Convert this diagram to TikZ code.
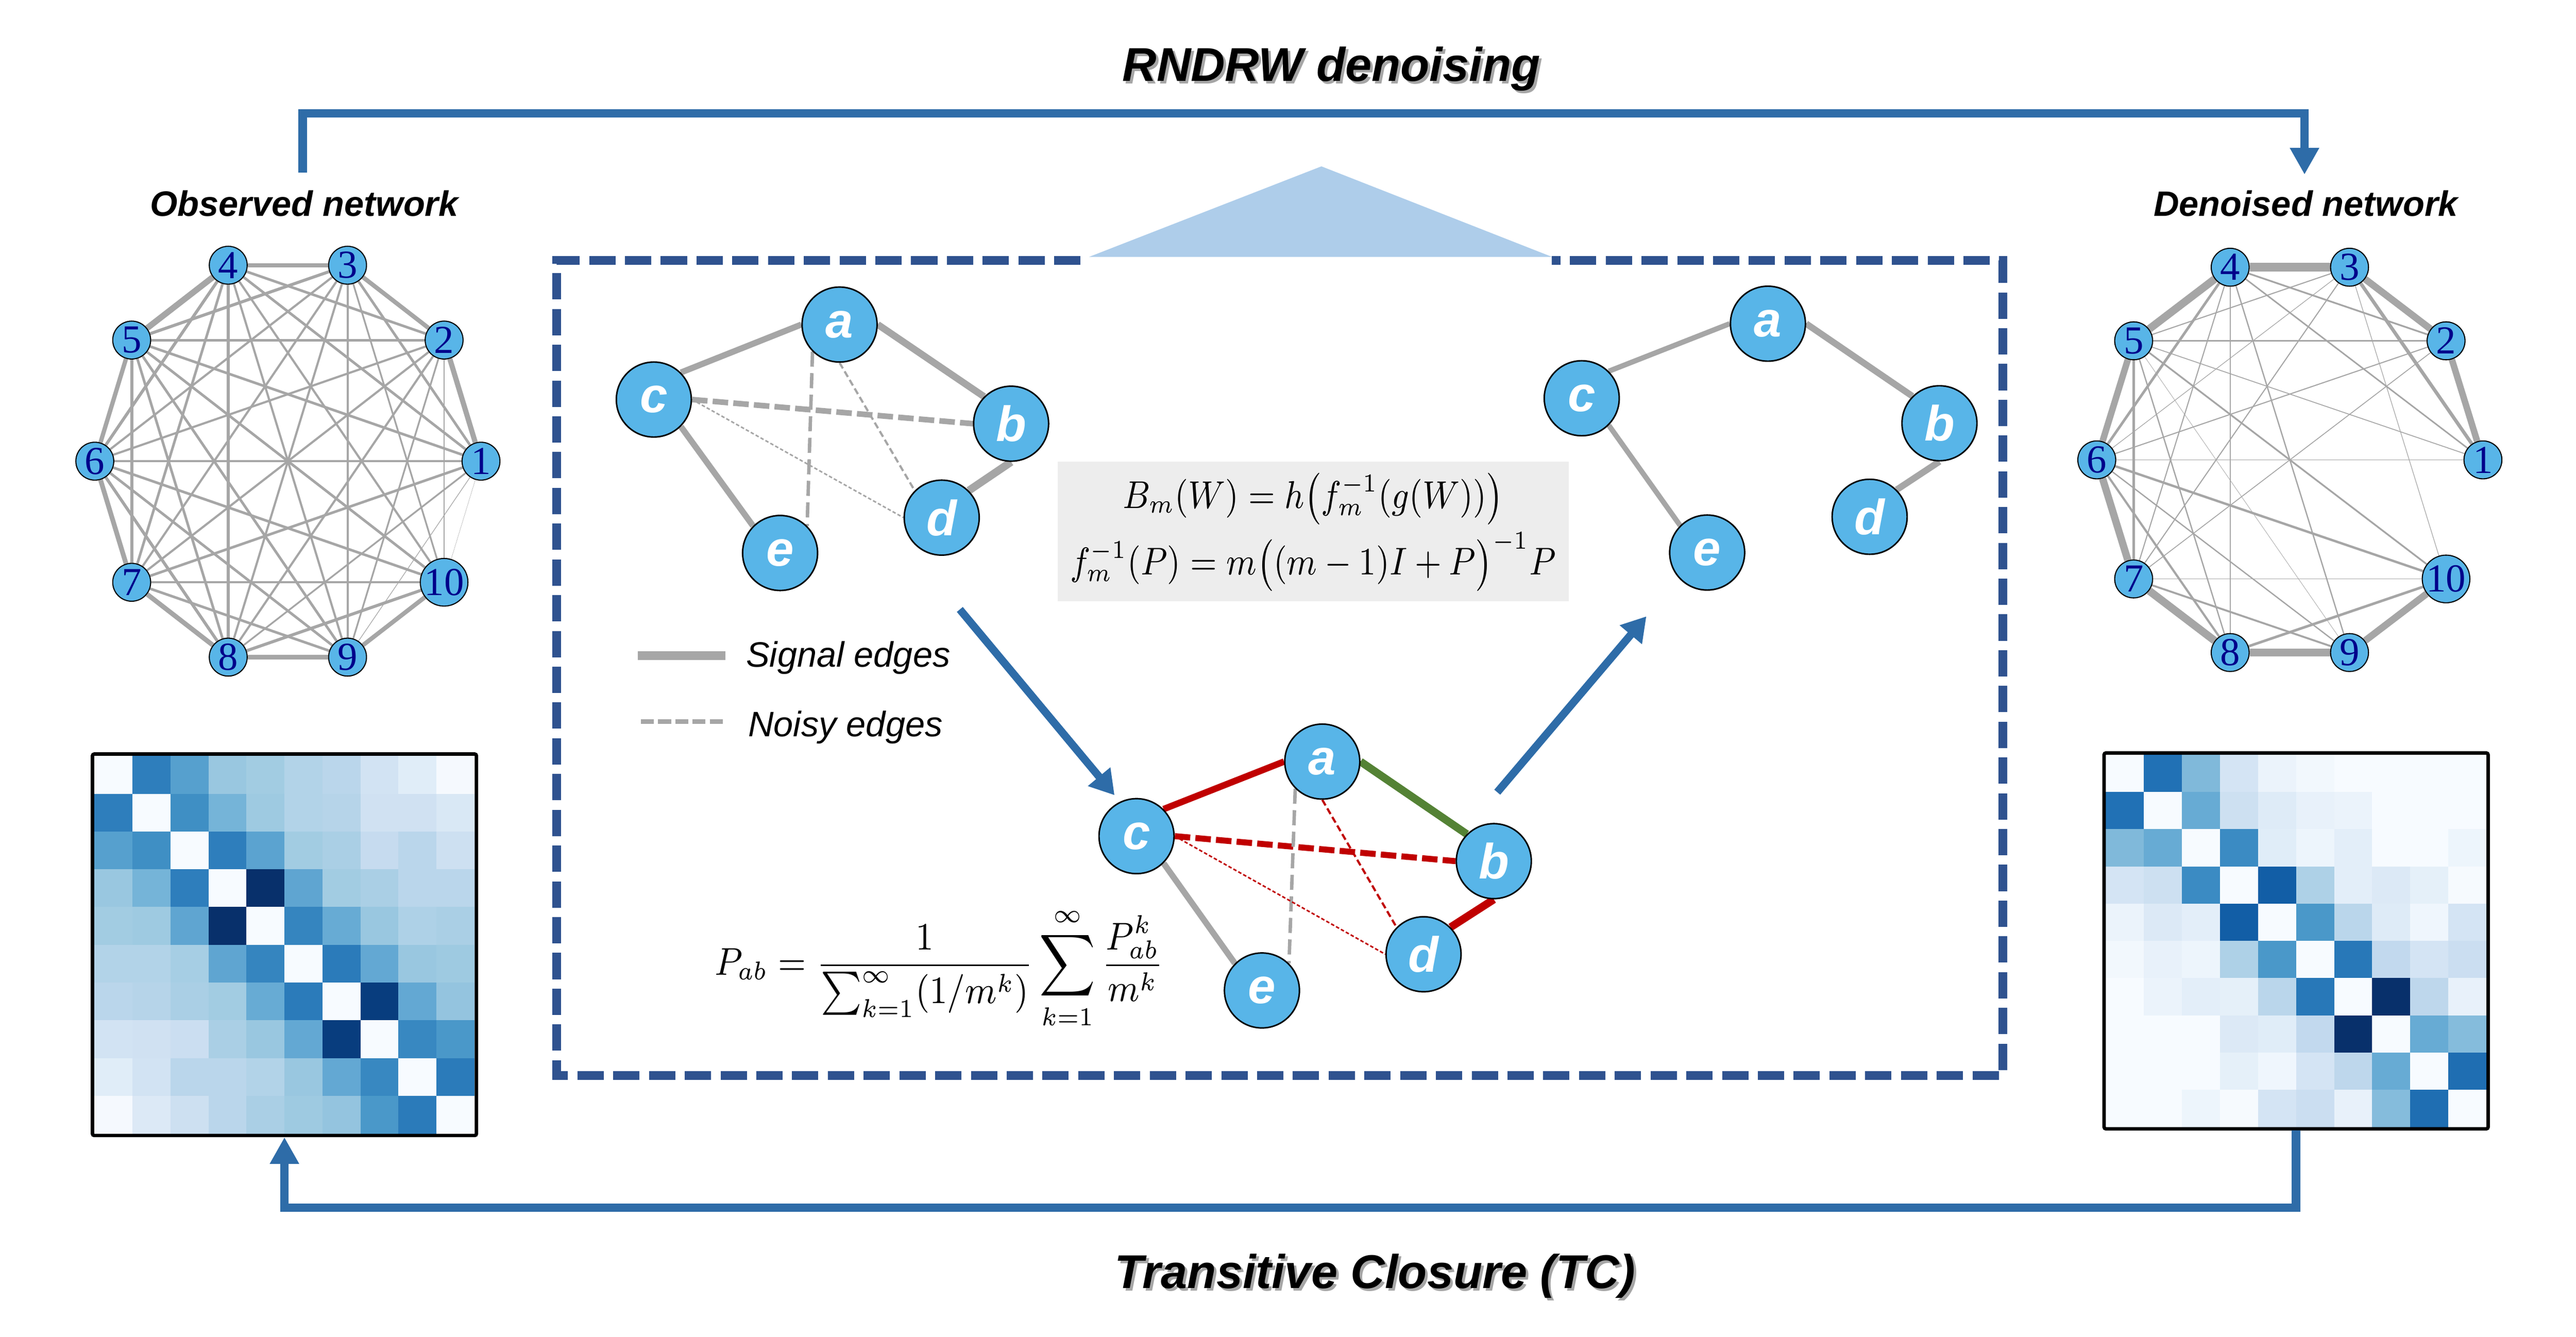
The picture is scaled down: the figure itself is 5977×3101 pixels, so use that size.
\documentclass[tikz,border=0pt]{standalone}
\usepackage{fontspec}
\usepackage{graphicx}
\setmainfont{Liberation Sans}
\newfontfamily\numfont{Liberation Serif}
\usetikzlibrary{arrows.meta,backgrounds,calc}
\definecolor{conn}{RGB}{46,108,168}
\definecolor{boxblue}{RGB}{47,82,143}
\definecolor{tri}{RGB}{174,205,234}
\definecolor{nodeblue}{RGB}{88,181,232}
\definecolor{edgegray}{RGB}{166,166,166}
\definecolor{numblue}{RGB}{0,0,139}
\definecolor{myred}{RGB}{192,0,0}
\definecolor{mygreen}{RGB}{84,130,53}
\definecolor{formulabg}{RGB}{237,237,237}
\definecolor{b0}{HTML}{F7FBFF}
\definecolor{b1}{HTML}{DEEBF7}
\definecolor{b2}{HTML}{C6DBEF}
\definecolor{b3}{HTML}{9ECAE1}
\definecolor{b4}{HTML}{6BAED6}
\definecolor{b5}{HTML}{4292C6}
\definecolor{b6}{HTML}{2171B5}
\definecolor{b7}{HTML}{08519C}
\definecolor{b8}{HTML}{08306B}
\tikzset{
  nnode/.style={circle, fill=nodeblue, draw=black, line width=0.25pt, minimum size=8.8pt, inner sep=0pt,
     font=\numfont\fontsize{9.2}{9}\selectfont, text=numblue},
  cnode/.style={circle, fill=nodeblue, draw=black, line width=0.35pt, minimum size=17.4pt, inner sep=0pt,
     font=\fontsize{11.5}{12}\selectfont\bfseries\itshape, text=white},
  netedge/.style={draw=edgegray},
  sig/.style={draw=edgegray, line width=1.4pt},
  connline/.style={draw=conn, line width=2pt},
  bigtip/.style={-{Triangle[width=6.4pt,length=6.2pt]}},
  midarrow/.style={draw=conn, line width=1.8pt, -{Triangle[width=6.4pt,length=5.6pt]}},
  titlefnt/.style={font=\fontsize{11}{13}\selectfont\bfseries\itshape},
  labfnt/.style={font=\fontsize{8.2}{10}\selectfont\bfseries\itshape},
  legfnt/.style={font=\fontsize{8.2}{10}\selectfont\itshape},
  matframe/.style={draw=black, line width=0.8pt, rounded corners=0.4pt, inner sep=0pt},
}
\begin{document}
\begin{tikzpicture}[x=0.1pt,y=-0.1pt]
\useasboundingbox (0,0) rectangle (5977,3101);

% ---------- titles ----------
\node[titlefnt, text=black!35, anchor=base] at (3095,194) {RNDRW denoising};
\node[titlefnt, anchor=base] (T1) at (3089,188) {RNDRW denoising};
\node[titlefnt, text=black!35, anchor=base] at (3196,2995) {Transitive Closure (TC)};
\node[titlefnt, anchor=base] (T2) at (3190,2989) {Transitive Closure (TC)};
\node[labfnt, anchor=base] (OL) at (706,502) {Observed network};
\node[labfnt, anchor=base] (DL) at (5350,502) {Denoised network};

% ---------- networks ----------
\foreach \k in {1,...,10}{
  \pgfmathsetmacro\ang{(\k-1)*36}
  \node[nnode] (L\k) at ({668+448*cos(\ang)},{1070-478*sin(\ang)}) {\k};
  \node[nnode] (R\k) at ({5313+448*cos(\ang)},{1067-470*sin(\ang)}) {\k};
}
\begin{pgfonlayer}{background}
\foreach \a/\b/\w in {1/2/12,1/3/6,1/4/6,1/5/6,1/6/5,1/7/6,1/8/4,1/9/1.5,1/10/0.6,
  2/3/10,2/4/6,2/5/6,2/6/5,2/7/5,2/8/5,2/9/4,2/10/2.5,
  3/4/10,3/5/7,3/6/5,3/7/5,3/8/5,3/9/5,3/10/4,
  4/5/14,4/6/7,4/7/6,4/8/6,4/9/5,4/10/5,
  5/6/10,5/7/7,5/8/6,5/9/6,5/10/6,
  6/7/11,6/8/7,6/9/6,6/10/6,
  7/8/11,7/9/6,7/10/5,
  8/9/10,8/10/7,9/10/10}{
  \pgfmathsetmacro\lw{\w/10}
  \draw[netedge, line width=\lw pt] (L\a) -- (L\b);
}
\foreach \a/\b/\w in {4/3/20,4/5/18,5/6/15,6/7/17,7/8/18,8/9/17,9/10/16,3/2/16,2/1/15,
  3/1/8,4/2/4,4/1/3.5,4/6/6,4/7/2.5,4/8/3,4/9/3,3/5/2.5,3/6/1.5,3/7/2.5,3/10/1.5,
  5/2/3.5,5/1/2,5/10/4,5/7/5,5/8/3,5/9/1,6/2/2.5,6/1/0.5,6/10/5.5,6/8/5,6/9/3,
  7/2/2,7/10/1.5,7/9/4.5,8/10/6}{
  \pgfmathsetmacro\lw{\w/10}
  \draw[netedge, line width=\lw pt] (R\a) -- (R\b);
}
\end{pgfonlayer}

% ---------- heat maps ----------
\foreach \row [count=\i from 0] in {
 {0,5.6,4.5,3.1,2.9,2.5,2.3,1.5,0.9,0.1},
 {5.6,0,5.1,3.8,3.0,2.5,2.4,1.6,1.6,1.2},
 {4.5,5.1,0,5.6,4.4,2.9,2.7,2.0,2.3,1.7},
 {3.1,3.8,5.6,0,8,4.3,2.9,2.7,2.3,2.3},
 {2.9,3.0,4.3,8,0,5.4,4.1,3.1,2.6,2.7},
 {2.5,2.5,2.8,4.3,5.4,0,5.7,4.2,3.1,3.0},
 {2.3,2.4,2.7,2.9,4.1,5.7,0,7.6,4.2,3.2},
 {1.5,1.6,1.8,2.7,3.1,4.2,7.6,0,5.3,4.8},
 {0.9,1.5,2.3,2.3,2.5,3.1,4.2,5.3,0,5.7},
 {0.1,1.1,1.7,2.3,2.7,3.0,3.2,4.8,5.7,0}}{
  \foreach \v [count=\j from 0] in \row {
    \pgfmathtruncatemacro\lo{floor(\v)}
    \pgfmathtruncatemacro\hi{min(\lo+1,8)}
    \pgfmathtruncatemacro\pct{round(100*(1-(\v-\lo)))}
    \fill[b\lo!\pct!b\hi] ({219+\j*88.2},{1754+\i*87.6}) rectangle ++(88.7,88.1);
  }
}
\foreach \row [count=\i from 0] in {
 {0,6.0,3.6,1.4,0.5,0.2,0,0,0,0},
 {6.0,0,4.1,1.7,1.0,0.6,0.5,0,0,0},
 {3.6,4.1,0,5.2,0.9,0.4,0.8,0,0,0.4},
 {1.4,1.7,5.2,0,6.6,2.6,0.8,1.1,0.7,0.05},
 {0.5,1.1,0.8,6.6,0,4.8,2.3,1.0,0.3,1.4},
 {0.2,0.6,0.4,2.6,4.8,0,5.8,2.1,1.4,1.8},
 {0,0.5,0.8,0.7,2.3,5.8,0,8,2.2,0.6},
 {0,0,0,1.1,0.9,2.1,8,0,4.1,3.5},
 {0,0,0,0.7,0.3,1.4,2.2,4.1,0,6.1},
 {0,0,0.4,0.05,1.4,1.8,0.6,3.5,6.1,0}}{
  \foreach \v [count=\j from 0] in \row {
    \pgfmathtruncatemacro\lo{floor(\v)}
    \pgfmathtruncatemacro\hi{min(\lo+1,8)}
    \pgfmathtruncatemacro\pct{round(100*(1-(\v-\lo)))}
    \fill[b\lo!\pct!b\hi] ({4886+\j*88.3},{1751+\i*86.4}) rectangle ++(88.8,86.9);
  }
}
\node[matframe, minimum width=89.1pt, minimum height=88.5pt] (LM) at (660,2192) {};
\node[matframe, minimum width=89.1pt, minimum height=87.2pt] (RM) at (5327.5,2183) {};

% ---------- outer connectors ----------
\coordinate (topL) at (702,400);
\coordinate (topR) at (5347,405);
\draw[connline, bigtip] (topL) -- (702,263) -- (5347,263) -- (topR);
\draw[connline, bigtip] (RM.south) -- ($(RM.south)+(0,179)$) -| (LM.south);

% ---------- dashed frame ----------
\fill[tri] (3066,386) -- (2527,596) -- (3601,596) -- cycle;
\draw[boxblue, line width=2pt, dash pattern=on 6.1pt off 2.2pt]
  (2507,604) -- (1292,604) -- (1292,2495) -- (4647,2495) -- (4647,604) -- (3601,604);

% ---------- top-left graph ----------
\node[cnode] (ta) at (1948,753) {a};
\node[cnode] (tc) at (1517,927) {c};
\node[cnode] (tb) at (2346,983) {b};
\node[cnode] (td) at (2185,1201) {d};
\node[cnode] (te) at (1810,1283) {e};
\begin{pgfonlayer}{background}
\draw[sig] (tc.north east) -- (ta.west);
\draw[sig, line width=1.6pt] (ta.east) -- (tb.north west);
\draw[sig] (tc.south east) -- (te.north west);
\draw[sig, line width=1.8pt] (tb.south) -- (td.north east);
\draw[edgegray, line width=1.3pt, dash pattern=on 3.6pt off 1.2pt] (tc.east) -- (tb.west);
\draw[edgegray, line width=0.8pt, dash pattern=on 3.5pt off 1.5pt] (ta.south west) -- (te.north east);
\draw[edgegray, line width=0.5pt, dash pattern=on 1.5pt off 0.8pt] (ta.south) -- (td.north west);
\draw[edgegray, line width=0.35pt, dash pattern=on 0.8pt off 0.5pt] (tc.east) -- (td.west);
\end{pgfonlayer}

% ---------- top-right graph ----------
\node[cnode] (ra) at (4102,751) {a};
\node[cnode] (rc) at (3670,924) {c};
\node[cnode] (rb) at (4500,982) {b};
\node[cnode] (rd) at (4338,1199) {d};
\node[cnode] (re) at (3961,1282) {e};
\begin{pgfonlayer}{background}
\draw[sig, line width=1.2pt] (rc.north east) -- (ra.west);
\draw[sig, line width=1.5pt] (ra.east) -- (rb.north west);
\draw[sig, line width=1.2pt] (rc.south east) -- (re.north west);
\draw[sig, line width=1.5pt] (rb.south) -- (rd.north east);
\end{pgfonlayer}

% ---------- formula box ----------
\node[fill=formulabg, minimum width=118.6pt, minimum height=32.4pt, inner sep=0pt, align=center,
      font=\fontsize{8.6}{15.4}\selectfont] (FB) at (3047,1233)
  {\scalebox{0.86}[1]{$B_m(W)=h\bigl(f_m^{-1}(g(W))\bigr)$}\\
   \scalebox{0.86}[1]{$f_m^{-1}(P)=m\bigl((m-1)I+P\bigr)^{-1}P$}};

% ---------- legend ----------
\coordinate (sg1) at (1480,1521); \coordinate (sg2) at (1683,1521);
\coordinate (ns1) at (1487,1674); \coordinate (ns2) at (1683,1674);
\draw[edgegray, line width=2pt] (sg1) -- (sg2);
\draw[edgegray, line width=1pt, dash pattern=on 3pt off 1pt] (ns1) -- (ns2);
\node[legfnt, anchor=base west, inner sep=0pt] (SL) at (1729,1547) {Signal edges};
\node[legfnt, anchor=base west, inner sep=0pt] (NL) at (1734,1709) {Noisy edges};

% ---------- middle arrows ----------
\coordinate (m1s) at (2227,1414); \coordinate (m1e) at (2586,1845);
\coordinate (m2s) at (3474,1838); \coordinate (m2e) at (3820,1430);
\draw[midarrow] (m1s) -- (m1e);
\draw[midarrow] (m2s) -- (m2e);

% ---------- bottom graph ----------
\node[cnode] (ba) at (3068,1767) {a};
\node[cnode] (bc) at (2637,1940) {c};
\node[cnode] (bb) at (3466,1998) {b};
\node[cnode] (bd) at (3303,2214) {d};
\node[cnode] (be) at (2928,2298) {e};
\begin{pgfonlayer}{background}
\draw[myred, line width=1.5pt] (bc.north east) -- (ba.west);
\draw[mygreen, line width=1.8pt] (ba.east) -- (bb.north west);
\draw[myred, line width=1.8pt] (bb.south) -- (bd.north east);
\draw[sig] (bc.south east) -- (be.north west);
\draw[myred, line width=1.4pt, dash pattern=on 3.6pt off 1.2pt] (bc.east) -- (bb.west);
\draw[edgegray, line width=0.8pt, dash pattern=on 3.5pt off 1.5pt] (ba.south west) -- (be.north east);
\draw[myred, line width=0.5pt, dash pattern=on 1.5pt off 0.8pt] (ba.south) -- (bd.north west);
\draw[myred, line width=0.35pt, dash pattern=on 0.8pt off 0.5pt] (bc.east) -- (bd.west);
\end{pgfonlayer}

% ---------- P_ab formula ----------
\node[font=\fontsize{8.8}{11}\selectfont, inner sep=0pt] (PF) at (2180,2247)
  {\scalebox{0.9}[1]{$\displaystyle P_{ab}=\frac{1}{\sum_{k=1}^{\infty}(1/m^k)}\sum_{k=1}^{\infty}\frac{P_{ab}^k}{m^k}$}};
\end{tikzpicture}
\end{document}
